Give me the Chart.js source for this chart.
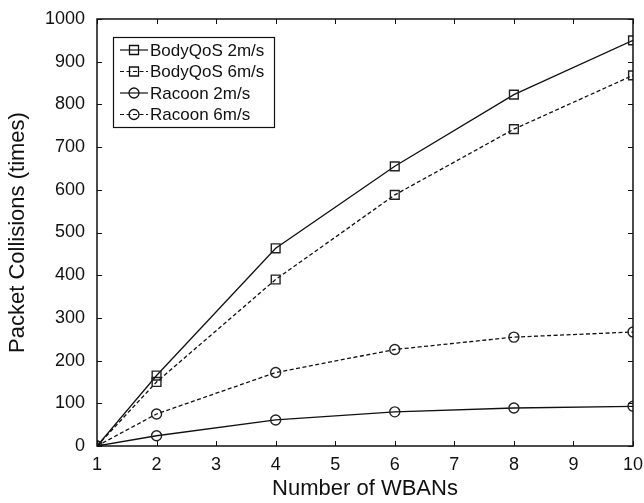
<!DOCTYPE html>
<html>
<head>
<meta charset="utf-8">
<script src="https://cdn.jsdelivr.net/npm/chart.js@4/dist/chart.umd.min.js"></script>
<style>
  html, body { margin: 0; padding: 0; background: #fff; }
  #wrap { width: 644px; height: 503px; }
</style>
</head>
<body>
<div id="wrap"><canvas id="Chart1" width="644" height="503"></canvas></div>
<script>
// number of WBANs on the x axis
var wbans = [1, 2, 4, 6, 8, 10];

// packet collisions per scheme / speed
var bodyqos2 = [0, 165, 463, 655, 823, 950];
var bodyqos6 = [0, 150, 390, 588, 742, 868];
var racoon2 = [0, 24, 61, 80, 89, 93];
var racoon6 = [0, 75, 172, 226, 255, 267];

var seriesNames = ['BodyQoS 2m/s', 'BodyQoS 6m/s', 'Racoon 2m/s', 'Racoon 6m/s'];

var FONT = 'Liberation Sans, Arial, Helvetica, sans-serif';

function pts(ys) {
	return wbans.map(function (x, i) { return { x: x, y: ys[i] }; });
}

function series(label, ys, shape, dashed) {
	return {
		label: label,
		data: pts(ys),
		borderColor: '#111',
		backgroundColor: 'rgba(0,0,0,0)',
		borderWidth: 1.3,
		borderDash: dashed ? [4, 2.5] : [],
		pointStyle: shape,
		pointRadius: shape === 'rect' ? 6.2 : 5,
		pointBorderWidth: 1.4,
		pointBorderColor: '#222',
		pointBackgroundColor: 'rgba(0,0,0,0)',
		tension: 0
	};
}

// frame, inward ticks and the boxed legend
var framePlugin = {
	id: 'frame',
	afterDraw: function (chart) {
		var ctx = chart.ctx;
		var a = chart.chartArea;
		var xs = chart.scales.x, ys = chart.scales.y;
		ctx.save();
		ctx.strokeStyle = '#111';
		ctx.lineWidth = 1.5;
		ctx.strokeRect(a.left, a.top, a.right - a.left, a.bottom - a.top);

		ctx.lineWidth = 1;
		var len = 5;
		xs.ticks.forEach(function (t) {
			var px = Math.round(xs.getPixelForValue(t.value)) + 0.5;
			ctx.beginPath();
			ctx.moveTo(px, a.bottom); ctx.lineTo(px, a.bottom - len);
			ctx.moveTo(px, a.top); ctx.lineTo(px, a.top + len);
			ctx.stroke();
		});
		ys.ticks.forEach(function (t) {
			var py = Math.round(ys.getPixelForValue(t.value)) + 0.5;
			ctx.beginPath();
			ctx.moveTo(a.left, py); ctx.lineTo(a.left + len, py);
			ctx.moveTo(a.right, py); ctx.lineTo(a.right - len, py);
			ctx.stroke();
		});

		// legend box
		var bx = a.left + 16, by = a.top + 18, bw = 161, bh = 90;
		ctx.fillStyle = '#fff';
		ctx.fillRect(bx, by, bw, bh);
		ctx.lineWidth = 1.2;
		ctx.strokeRect(bx + 0.5, by + 0.5, bw, bh);

		ctx.font = '17px ' + FONT;
		ctx.textBaseline = 'middle';
		chart.data.datasets.forEach(function (ds, i) {
			var cy = by + 13 + i * 21.5;
			var x0 = bx + 7, x1 = bx + 35, cx = (x0 + x1) / 2;
			ctx.strokeStyle = '#111';
			ctx.lineWidth = 1.2;
			ctx.setLineDash(ds.borderDash);
			ctx.beginPath();
			ctx.moveTo(x0, cy); ctx.lineTo(x1, cy);
			ctx.stroke();
			ctx.setLineDash([]);
			ctx.lineWidth = 1.3;
			ctx.beginPath();
			if (ds.pointStyle === 'rect') {
				ctx.rect(cx - 4.5, cy - 4.5, 9, 9);
			} else {
				ctx.arc(cx, cy, 5, 0, Math.PI * 2);
			}
			ctx.stroke();
			ctx.fillStyle = '#111';
			ctx.fillText(ds.label, x1 + 2, cy + 1);
		});
		ctx.restore();
	}
};

var context = document.getElementById('Chart1').getContext('2d');

var myChart = new Chart(context, {
	type: 'line',
	data: {
		datasets: [
			series(seriesNames[0], bodyqos2, 'rect', false),
			series(seriesNames[1], bodyqos6, 'rect', true),
			series(seriesNames[2], racoon2, 'circle', false),
			series(seriesNames[3], racoon6, 'circle', true)
		]
	},
	plugins: [framePlugin],
	options: {
		responsive: false,
		animation: false,
		layout: { padding: { top: 19, right: 11, left: 0, bottom: 0 } },
		plugins: {
			legend: { display: false },
			tooltip: { enabled: false }
		},
		scales: {
			x: {
				type: 'linear',
				min: 1,
				max: 10,
				ticks: { stepSize: 1, color: '#111', font: { family: FONT, size: 18 }, padding: 8 },
				grid: { display: false, drawTicks: false },
				border: { display: false },
				title: { display: true, text: 'Number of WBANs', color: '#111', font: { family: FONT, size: 22 }, padding: { top: 0, bottom: 1 } },
				afterFit: function (s) {
					s.height = 57;
					s.paddingLeft = 0;
					s.paddingRight = 0;
				}
			},
			y: {
				min: 0,
				max: 1000,
				ticks: {
					stepSize: 100, color: '#111', font: { family: FONT, size: 18 }, padding: 12,
					callback: function (v) { return String(v); }
				},
				grid: { display: false, drawTicks: false },
				border: { display: false },
				title: { display: true, text: 'Packet Collisions (times)', color: '#111', font: { family: FONT, size: 22 }, padding: { top: 5, bottom: 4 } },
				afterFit: function (s) {
					s.width = 97;
					s.paddingTop = 0;
					s.paddingBottom = 0;
				}
			}
		}
	}
});
</script>
</body>
</html>
